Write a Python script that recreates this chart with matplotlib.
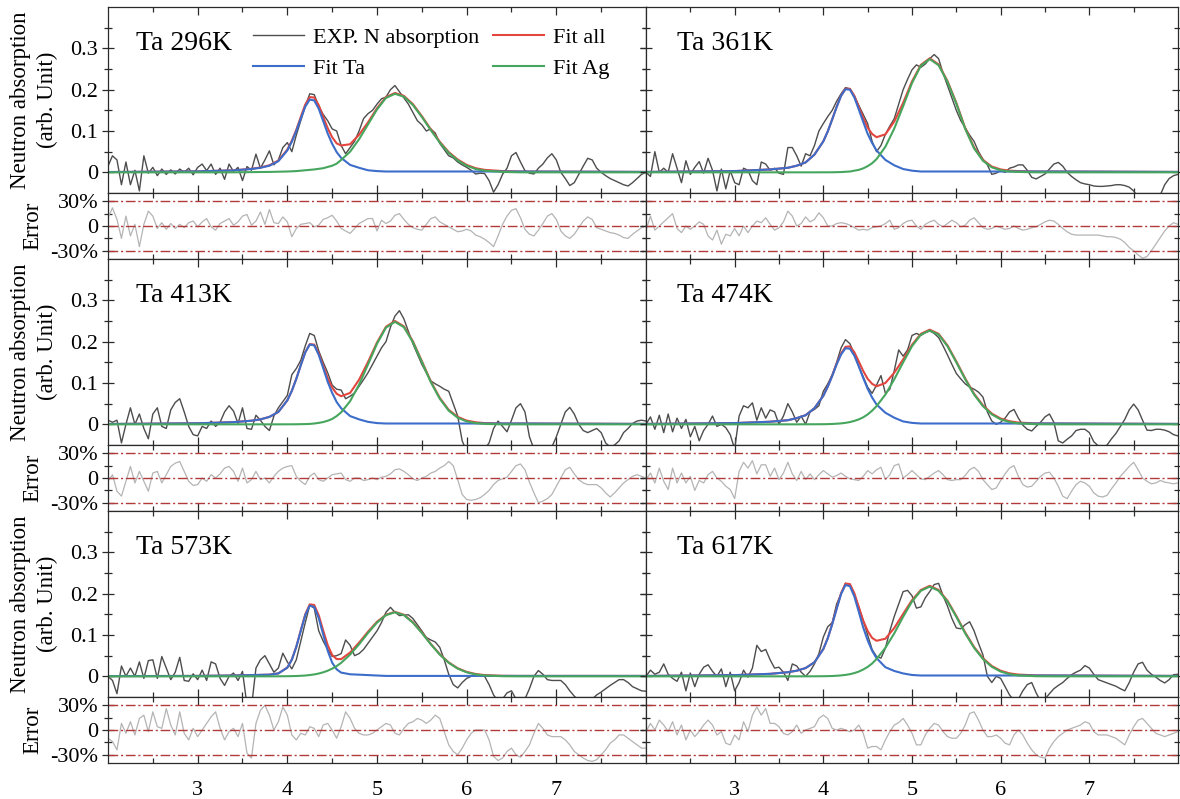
import numpy as np
import matplotlib
matplotlib.use('Agg')
import matplotlib.pyplot as plt
from matplotlib.gridspec import GridSpec

plt.rcParams['font.family'] = ['Liberation Serif', 'DejaVu Serif']

# ---------------- data ----------------
temps = ['296K', '361K', '413K', '474K', '573K', '617K']

# experimental / error sampling positions (x from 2.00 to 8.00, step 0.05)
x_exp = np.linspace(2.0, 8.0, 121)

# fit sampling positions
x_fit = [2.0, 3.0, 3.4, 3.6, 3.7, 3.8, 3.9,
         4.0, 4.05, 4.1, 4.15, 4.2, 4.25, 4.3, 4.35, 4.4, 4.45, 4.5, 4.55, 4.6,
         4.7, 4.8, 4.9, 5.0, 5.1, 5.2, 5.3, 5.4, 5.5, 5.6, 5.7, 5.8, 5.9, 6.0, 6.1, 6.2,
         6.4, 6.6, 8.0]

exp_296 = [0.015, 0.040, 0.030, -0.030, 0.025, -0.030, 0.005, -0.045, 0.040, -0.002,
           0.012, -0.008, 0.008, -0.005, 0.006, -0.004, 0.008, 0.000, 0.010, -0.006,
           0.012, 0.020, 0.004, 0.020, -0.005, 0.010, -0.017, 0.020, 0.002, 0.012,
           -0.020, 0.014, 0.005, 0.044, 0.010, 0.030, 0.052, 0.018, 0.030, 0.060,
           0.072, 0.050, 0.090, 0.125, 0.160, 0.190, 0.188, 0.160, 0.140, 0.125,
           0.105, 0.100, 0.065, 0.045, 0.060, 0.075, 0.100, 0.130, 0.142, 0.150,
           0.165, 0.178, 0.182, 0.200, 0.210, 0.195, 0.180, 0.165, 0.145, 0.125,
           0.115, 0.100, 0.105, 0.095, 0.070, 0.055, 0.040, 0.035, 0.025, 0.018,
           0.012, 0.005, -0.004, -0.002, -0.003, -0.020, -0.048, -0.030, -0.005, 0.010,
           0.040, 0.048, 0.025, 0.004, -0.002, -0.004, 0.010, 0.020, 0.035, 0.045,
           0.030, 0.000, -0.015, -0.032, -0.025, -0.005, 0.015, 0.034, 0.030, 0.010,
           0.000, -0.008, -0.015, -0.020, -0.025, -0.030, -0.033, -0.025, -0.015, -0.005,
           0.000]
err_296 = [10, 22, 8, -15, 12, -12, 2, -25, 2, 18,
           12, -3, 4, -4, 3, -3, 2, -2, 4, 6,
           -1, 5, 9, -1, -5, 3, 6, 9, 1, 5,
           12, 14, 1, 6, 17, 2, 20, 4, 3, 11,
           5, -13, -3, 2, 3, 4, -1, 1, 8, 10,
           13, 6, -3, -6, -9, -3, 3, 6, 9, 9,
           -6, 7, 3, 6, 13, 15, 8, 2, -2, -4,
           -5, 2, 9, 11, 5, 2, -1, -4, -7, -6,
           -4, -6, -11, -13, -16, -20, -25, -12, 2, 12,
           19, 21, 10, -4, -10, -12, -5, 3, 12, 15,
           8, -6, -12, -15, -10, -2, 6, 11, 8, -2,
           -4, -6, -8, -9, -11, -14, -15, -10, -6, -2,
           0]
ta_296 = [0.0007, 0.0023, 0.0048, 0.008, 0.011, 0.016, 0.027,
          0.053, 0.074, 0.100, 0.130, 0.159, 0.176, 0.174, 0.154, 0.124, 0.094, 0.069, 0.049, 0.035,
          0.018, 0.011, 0.005, 0.003, 0.002, 0.002, 0.002, 0.002, 0.002, 0.002, 0.002, 0.002,
          0.002, 0.002, 0.002, 0.002,
          0.002, 0.002, 0.001]
ag_296 = [0.0, 0.0, 0.0, 0.0005, 0.0008, 0.001, 0.0015,
          0.002, 0.0025, 0.003, 0.004, 0.005, 0.006, 0.007, 0.0085, 0.010, 0.013, 0.016, 0.021, 0.030,
          0.050, 0.080, 0.116, 0.152, 0.180, 0.190, 0.183, 0.163, 0.134, 0.102, 0.072, 0.047,
          0.029, 0.016, 0.008, 0.004,
          0.001, 0.0, 0.0]

exp_361 = [0.000, -0.010, 0.050, 0.000, 0.010, 0.000, 0.045, 0.010, -0.025, 0.028,
           -0.005, 0.012, 0.026, -0.002, 0.034, 0.005, -0.045, 0.008, -0.040, 0.004,
           -0.025, -0.030, 0.010, 0.005, -0.020, -0.030, 0.025, 0.020, 0.005, 0.010,
           -0.002, -0.005, 0.060, 0.060, 0.040, 0.015, 0.045, 0.040, 0.065, 0.100,
           0.118, 0.135, 0.150, 0.172, 0.190, 0.205, 0.202, 0.185, 0.162, 0.140,
           0.118, 0.075, 0.050, 0.065, 0.092, 0.112, 0.130, 0.165, 0.200, 0.225,
           0.248, 0.260, 0.254, 0.262, 0.275, 0.285, 0.275, 0.240, 0.210, 0.180,
           0.150, 0.125, 0.108, 0.090, 0.075, 0.050, 0.032, 0.018, -0.005, -0.002,
           0.004, 0.000, 0.010, 0.013, 0.018, 0.018, 0.005, -0.012, -0.016, -0.010,
           -0.004, 0.008, 0.020, 0.024, 0.015, 0.000, -0.010, -0.018, -0.025, -0.028,
           -0.030, -0.033, -0.034, -0.034, -0.033, -0.032, -0.030, -0.030, -0.032, -0.036,
           -0.045, -0.060, -0.070, -0.075, -0.075, -0.070, -0.055, -0.030, -0.015, -0.008,
           -0.005]
err_361 = [-5, 12, -5, 0, 5, 10, 15, -3, -8, 0,
           -4, 0, 5, 2, -12, -17, -5, -22, -10, -12,
           -3, -12, 0, -8, 0, 6, 4, 10, 2, -5,
           -2, 5, 18, 12, 0, 3, 11, 5, 8, 16,
           10, 0, 0, 3, 4, 3, 1, -2, -5, -4,
           -5, -2, -1, 0, 3, 7, -4, -2, 3, 6,
           7, 0, -4, 2, 5, 7, 2, -1, 3, 7,
           4, -1, 1, 7, 10, 4, -2, -4, -3, 0,
           -2, -4, -3, 0, -3, -5, -4, -2, -1, 2,
           5, 7, 6, 2, -3, -7, -10, -11, -11, -11,
           -11, -11, -11, -12, -13, -13, -14, -16, -20, -26,
           -30, -35, -39, -37, -30, -22, -14, -6, 0, 4,
           2]
ta_361 = [0.001, 0.003, 0.007, 0.011, 0.016, 0.024, 0.043,
          0.075, 0.099, 0.128, 0.158, 0.185, 0.201, 0.200, 0.181, 0.152, 0.122, 0.093, 0.071, 0.053,
          0.030, 0.017, 0.008, 0.004, 0.002, 0.002, 0.002, 0.002, 0.002, 0.002, 0.002, 0.002,
          0.002, 0.002, 0.002, 0.002,
          0.002, 0.002, 0.001]
ag_361 = [0.0, 0.0, 0.0, 0.0, 0.0, 0.0, 0.0,
          0.0001, 0.0001, 0.0002, 0.0004, 0.0007, 0.0013, 0.002, 0.004, 0.006, 0.0096, 0.015, 0.022, 0.032,
          0.062, 0.106, 0.160, 0.216, 0.258, 0.274, 0.259, 0.219, 0.166, 0.105, 0.058, 0.028,
          0.012, 0.005, 0.002, 0.001,
          0.0, 0.0, 0.0]

exp_413 = [0.010, 0.005, 0.010, -0.045, 0.000, 0.040, 0.000, 0.025, -0.010, -0.035,
           0.025, 0.040, -0.005, -0.010, 0.035, 0.053, 0.062, 0.030, -0.005, -0.025,
           -0.028, -0.005, -0.010, 0.008, -0.005, 0.005, 0.030, 0.045, 0.032, 0.002,
           0.040, -0.010, -0.012, 0.022, 0.010, -0.005, -0.015, 0.020, 0.040, 0.055,
           0.070, 0.120, 0.135, 0.155, 0.190, 0.220, 0.215, 0.178, 0.150, 0.125,
           0.095, 0.085, 0.083, 0.062, 0.068, 0.076, 0.092, 0.108, 0.125, 0.145,
           0.165, 0.185, 0.200, 0.235, 0.262, 0.275, 0.255, 0.225, 0.195, 0.170,
           0.145, 0.125, 0.105, 0.098, 0.092, 0.085, 0.080, 0.050, 0.020, -0.040,
           -0.065, -0.075, -0.075, -0.070, -0.060, -0.045, -0.010, 0.008, -0.005, -0.018,
           0.010, 0.040, 0.050, 0.030, -0.030, -0.060, -0.070, -0.070, -0.065, -0.055,
           -0.030, 0.000, 0.030, 0.041, 0.025, 0.000, -0.015, -0.020, -0.015, -0.010,
           -0.020, -0.045, -0.055, -0.050, -0.040, -0.020, -0.010, 0.002, 0.008, 0.010,
           0.008]
err_413 = [-4, 4, -16, -22, -4, 14, -6, 8, -4, -16,
           6, 8, -6, 4, 14, 18, 20, 8, -4, -9,
           -8, 0, -4, 4, 0, 5, 12, 14, 8, -4,
           12, -6, -2, 8, -2, 0, -6, 2, 8, 12,
           14, 15, 2, -4, -8, 2, 6, -2, -4, 0,
           4, 5, 6, -2, -4, 0, 0, -3, -2, 0,
           -2, 1, 2, 5, 10, 11, 8, 4, -1, -3,
           0, 2, 6, 8, 12, 15, 20, 15, -2, -20,
           -26, -27, -26, -24, -20, -15, -8, -3, -1, 1,
           8, 15, 17, 10, -5, -18, -30, -28, -25, -20,
           -10, 0, 10, 13, 5, -2, -6, -8, -8, -8,
           -12, -18, -23, -18, -12, -6, -2, 2, 4, 2,
           0]
ta_413 = [0.0008, 0.0025, 0.0053, 0.0088, 0.012, 0.018, 0.030,
          0.058, 0.081, 0.110, 0.143, 0.174, 0.193, 0.191, 0.168, 0.136, 0.103, 0.076, 0.054, 0.039,
          0.020, 0.012, 0.006, 0.003, 0.002, 0.002, 0.002, 0.002, 0.002, 0.002, 0.002, 0.002,
          0.002, 0.002, 0.002, 0.002,
          0.002, 0.002, 0.001]
ag_413 = [0.0, 0.0, 0.0, 0.0, 0.0, 0.0, 0.0,
          0.0001, 0.0001, 0.0002, 0.0004, 0.0006, 0.001, 0.002, 0.0035, 0.0055, 0.0087, 0.013, 0.020, 0.029,
          0.056, 0.096, 0.145, 0.195, 0.234, 0.248, 0.235, 0.199, 0.151, 0.102, 0.062, 0.033,
          0.016, 0.007, 0.003, 0.001,
          0.0, 0.0, 0.0]

exp_474 = [0.000, 0.018, -0.012, 0.022, -0.020, 0.025, -0.018, 0.015, -0.010, 0.012,
           -0.030, -0.005, -0.040, -0.015, 0.000, 0.020, -0.005, 0.000, -0.008, -0.025,
           -0.060, 0.020, 0.045, 0.040, 0.052, 0.010, 0.040, 0.015, 0.035, 0.030,
           0.000, 0.020, 0.050, 0.030, 0.005, 0.020, 0.000, 0.030, 0.036, 0.045,
           0.080, 0.098, 0.120, 0.150, 0.185, 0.205, 0.195, 0.170, 0.140, 0.115,
           0.090, 0.075, 0.095, 0.118, 0.075, 0.085, 0.130, 0.180, 0.165, 0.180,
           0.215, 0.220, 0.215, 0.222, 0.226, 0.220, 0.210, 0.190, 0.168, 0.145,
           0.123, 0.110, 0.098, 0.090, 0.085, 0.078, 0.066, 0.030, 0.008, 0.000,
           0.005, 0.015, 0.030, 0.036, 0.015, -0.002, -0.012, -0.016, -0.005, 0.005,
           0.018, 0.025, 0.005, -0.040, -0.045, -0.036, -0.028, -0.015, -0.012, -0.012,
           -0.020, -0.042, -0.052, -0.057, -0.050, -0.035, -0.022, -0.005, 0.012, 0.035,
           0.049, 0.035, 0.010, -0.014, -0.015, -0.012, -0.012, -0.014, -0.018, -0.025,
           -0.028]
err_474 = [-2, 6, -6, 12, -4, -14, 12, -6, 6, -6,
           2, -15, -3, -6, 4, 8, 0, -4, -10, -14,
           -25, 8, 19, 12, 21, 5, 16, 16, 2, 12,
           -2, 6, 19, 5, -3, 8, -2, 5, -2, 4,
           9, 5, 1, 3, 6, 2, -1, -2, -3, 2,
           9, 5, 10, 13, -2, 4, 15, 17, 0, 4,
           9, 4, -1, -2, 2, 6, 9, 4, -2, -3,
           -2, -2, 3, 10, 13, 8, -2, -8, -14, -12,
           -3, 5, 12, 15, 2, -8, -11, -10, -4, 2,
           6, 7, 0, -10, -22, -25, -16, -8, -4, -6,
           -10, -18, -22, -23, -21, -13, -6, 2, 8, 14,
           19, 10, 0, -4, -7, -6, -3, -5, -6, -7,
           -6]
ta_474 = [0.001, 0.003, 0.0063, 0.010, 0.015, 0.022, 0.039,
          0.069, 0.091, 0.117, 0.145, 0.169, 0.184, 0.183, 0.166, 0.140, 0.112, 0.086, 0.065, 0.048,
          0.028, 0.016, 0.007, 0.0035, 0.002, 0.002, 0.002, 0.002, 0.002, 0.002, 0.002, 0.002,
          0.002, 0.002, 0.002, 0.002,
          0.002, 0.002, 0.001]
ag_474 = [0.0, 0.0, 0.0, 0.0, 0.0, 0.0001, 0.0002,
          0.0003, 0.0005, 0.0009, 0.0015, 0.0023, 0.0036, 0.0055, 0.0083, 0.012, 0.017, 0.024, 0.033, 0.044,
          0.072, 0.109, 0.150, 0.189, 0.217, 0.227, 0.217, 0.189, 0.150, 0.109, 0.072, 0.044,
          0.024, 0.012, 0.0055, 0.0023,
          0.0003, 0.0, 0.0]

exp_573 = [0.000, -0.010, -0.042, 0.025, 0.000, 0.020, 0.000, 0.035, -0.005, 0.038,
           0.040, -0.005, 0.048, 0.020, -0.008, 0.010, 0.046, -0.010, -0.012, 0.006,
           -0.008, 0.015, -0.010, 0.035, 0.030, -0.005, -0.022, 0.000, 0.008, -0.010,
           0.012, -0.070, -0.075, 0.020, 0.040, 0.050, 0.030, 0.010, 0.020, 0.056,
           0.035, 0.018, 0.040, 0.085, 0.130, 0.172, 0.165, 0.110, 0.085, 0.065,
           0.048, 0.050, 0.055, 0.088, 0.075, 0.050, 0.055, 0.065, 0.080, 0.095,
           0.110, 0.130, 0.155, 0.167, 0.155, 0.147, 0.148, 0.149, 0.140, 0.125,
           0.110, 0.094, 0.088, 0.083, 0.070, 0.040, 0.005, -0.020, -0.028, -0.015,
           -0.005, 0.000, 0.002, 0.003, 0.000, -0.020, -0.045, -0.060, -0.055, -0.040,
           -0.035, -0.055, -0.065, -0.055, -0.030, 0.000, 0.014, 0.005, -0.008, -0.010,
           -0.010, -0.010, -0.020, -0.035, -0.048, -0.058, -0.062, -0.060, -0.055, -0.045,
           -0.038, -0.030, -0.022, -0.015, -0.008, -0.008, -0.015, -0.025, -0.030, -0.035,
           -0.036]
err_573 = [-10, -14, -24, 8, -4, 10, -6, 14, 18, -2,
           22, 4, 2, 26, 6, -6, 22, -4, -12, 2,
           -8, 0, 8, 16, 22, 2, -12, -2, 2, -8,
           8, -28, -34, 8, 24, 30, 18, 0, 10, 28,
           18, -6, -12, -4, -6, 4, 2, -8, 6, 8,
           0, -10, 4, 22, 14, 2, -4, -6, -6, -4,
           0, 4, 8, 6, -4, -6, 2, 8, 10, 14,
           12, 8, 12, 18, 14, -2, -18, -26, -30, -22,
           -12, -4, 0, 0, 0, -12, -32, -37, -34, -26,
           -22, -30, -33, -26, -18, -4, 8, 2, -6, -8,
           -8, -8, -12, -18, -26, -30, -34, -37, -38, -36,
           -30, -24, -16, -12, -6, -6, -10, -14, -18, -22,
           -22]
ta_573 = [0.0005, 0.001, 0.002, 0.003, 0.0035, 0.004, 0.007,
          0.021, 0.040, 0.071, 0.110, 0.148, 0.171, 0.168, 0.141, 0.101, 0.062, 0.033, 0.017, 0.009,
          0.005, 0.004, 0.003, 0.002, 0.001, 0.001, 0.001, 0.001, 0.001, 0.001, 0.001, 0.001,
          0.001, 0.001, 0.001, 0.001,
          0.001, 0.001, 0.001]
ag_573 = [0.0, 0.0, 0.0, 0.0, 0.0, 0.0, 0.0001,
          0.0003, 0.0005, 0.0008, 0.0013, 0.002, 0.0031, 0.0046, 0.0068, 0.0097, 0.0136, 0.0186, 0.0248, 0.0326,
          0.0526, 0.0775, 0.105, 0.130, 0.148, 0.155, 0.148, 0.130, 0.105, 0.0775, 0.0526, 0.0326,
          0.0186, 0.0097, 0.0046, 0.002,
          0.0003, 0.0, 0.0]

exp_617 = [0.000, 0.015, 0.005, 0.010, 0.030, 0.005, -0.005, -0.012, 0.010, -0.035,
           0.008, -0.025, 0.005, 0.022, 0.028, 0.012, 0.000, 0.018, -0.025, 0.010,
           -0.035, -0.015, 0.015, -0.002, 0.020, 0.075, 0.060, 0.065, 0.040, 0.020,
           0.022, 0.010, -0.010, 0.030, 0.025, 0.010, 0.000, 0.012, 0.030, 0.055,
           0.095, 0.120, 0.130, 0.175, 0.200, 0.225, 0.222, 0.197, 0.168, 0.135,
           0.100, 0.065, 0.048, 0.044, 0.068, 0.110, 0.145, 0.175, 0.205, 0.208,
           0.195, 0.165, 0.168, 0.190, 0.205, 0.222, 0.225, 0.195, 0.170, 0.140,
           0.117, 0.115, 0.125, 0.132, 0.110, 0.080, 0.052, 0.000, -0.015, 0.000,
           -0.005, -0.025, -0.045, -0.058, -0.055, -0.035, -0.020, -0.015, -0.040, -0.060,
           -0.055, -0.042, -0.030, -0.022, -0.015, -0.005, 0.004, 0.010, 0.015, 0.026,
           0.020, 0.005, -0.008, -0.012, -0.016, -0.020, -0.024, -0.030, -0.035, -0.015,
           0.010, 0.030, 0.034, 0.015, 0.005, -0.002, -0.010, -0.016, -0.008, 0.004,
           0.005]
err_617 = [-2, 8, 0, 12, 6, -2, 10, -6, 6, -12,
           0, -8, -2, 6, 12, 6, -6, -2, -16, -18,
           -6, -12, 10, -2, 18, 28, 18, 26, 8, 8,
           4, -4, -6, -2, 6, -4, 0, 2, 4, 14,
           18, 14, 2, 0, 2, 0, -2, 0, 6, -4,
           -22, -20, -20, -24, -12, -2, 6, 9, 14, 6,
           -4, -18, -18, -6, 2, 8, 6, -2, -8, -10,
           -10, -4, 6, 20, 22, 12, 0, -8, -8, -6,
           -10, -16, -18, -6, 0, -6, -16, -24, -30, -33,
           -34, -22, -14, -8, -4, 0, 2, 4, 6, 10,
           8, -2, -6, -6, -6, -8, -10, -14, -18, -6,
           4, 12, 14, 8, 2, -4, -6, -8, -6, -4,
           -2]
ta_617 = [0.0009, 0.0029, 0.006, 0.010, 0.0136, 0.020, 0.034,
          0.066, 0.092, 0.126, 0.163, 0.199, 0.221, 0.218, 0.193, 0.156, 0.118, 0.087, 0.062, 0.044,
          0.022, 0.013, 0.007, 0.0033, 0.002, 0.002, 0.002, 0.002, 0.002, 0.002, 0.002, 0.002,
          0.002, 0.002, 0.002, 0.002,
          0.002, 0.002, 0.001]
ag_617 = [0.0, 0.0, 0.0, 0.0, 0.0, 0.0, 0.0001,
          0.0003, 0.0005, 0.0008, 0.0014, 0.0022, 0.0035, 0.0052, 0.0079, 0.0115, 0.0165, 0.0228, 0.031, 0.042,
          0.069, 0.104, 0.144, 0.181, 0.207, 0.217, 0.207, 0.181, 0.144, 0.104, 0.069, 0.042,
          0.023, 0.0115, 0.0052, 0.0022,
          0.0003, 0.0, 0.0]

panels = [
    (temps[0], exp_296, err_296, ta_296, ag_296),
    (temps[1], exp_361, err_361, ta_361, ag_361),
    (temps[2], exp_413, err_413, ta_413, ag_413),
    (temps[3], exp_474, err_474, ta_474, ag_474),
    (temps[4], exp_573, err_573, ta_573, ag_573),
    (temps[5], exp_617, err_617, ta_617, ag_617),
]

# ---------------- style ----------------
C_EXP = '#4d4d4d'
C_ERR = '#b4b4b4'
C_ALL = '#e2463f'
C_TA = '#3d6dca'
C_AG = '#47a65d'
C_REF = '#b23a3a'
SP = '#2a2a2a'

W, H = 1180, 799
fig = plt.figure(figsize=(W / 100, H / 100), dpi=100)
gs = GridSpec(6, 2, figure=fig,
              height_ratios=[186, 66, 186, 66, 186, 66],
              width_ratios=[538, 532],
              left=108 / W, right=1178 / W, top=1 - 7 / H, bottom=1 - 763 / H,
              hspace=0, wspace=0)

xmaj = [3, 4, 5, 6, 7]
xmin = [2.5, 3.5, 4.5, 5.5, 6.5, 7.5]

legend_handles = None
for i, (lab, ex, er, ta, ag) in enumerate(panels):
    row, col = divmod(i, 2)
    ax = fig.add_subplot(gs[2 * row, col])
    axe = fig.add_subplot(gs[2 * row + 1, col], sharex=ax)

    ta_a = np.asarray(ta)
    ag_a = np.asarray(ag)
    all_a = ta_a + ag_a

    l_exp, = ax.plot(x_exp, ex, color=C_EXP, lw=1.0)
    l_all, = ax.plot(x_fit, all_a, color=C_ALL, lw=1.5)
    l_ta, = ax.plot(x_fit, ta_a, color=C_TA, lw=1.5)
    l_ag, = ax.plot(x_fit, ag_a, color=C_AG, lw=1.5)
    if legend_handles is None:
        legend_handles = (ax, l_exp, l_ta, l_all, l_ag)

    ax.set_xlim(2, 8)
    ax.set_ylim(-0.05, 0.4)
    ax.set_yticks([0, 0.1, 0.2, 0.3], ['0', '0.1', '0.2', '0.3'])
    ax.set_yticks([0.05, 0.15, 0.25, 0.35], minor=True)
    ax.text(0.052 if col == 0 else 0.058, 0.806, 'Ta ' + lab, transform=ax.transAxes,
            fontsize=20, ha='left', va='center')

    axe.plot(x_exp, er, color=C_ERR, lw=0.9)
    for yv in (-30, 0, 30):
        axe.axhline(yv, color=C_REF, lw=1.0, ls=(0, (7, 2, 1.5, 2)))
    axe.set_ylim(-40, 40)
    axe.set_yticks([-30, 0, 30], ['-30%', '0', '30%'])
    axe.set_yticks([-15, 15], minor=True)

    for a in (ax, axe):
        a.set_xticks(xmaj)
        a.set_xticks(xmin, minor=True)
        a.tick_params(axis='x', which='both', direction='in', top=True, bottom=True,
                      labelbottom=False, width=0.9, color=SP)
        a.tick_params(axis='x', which='major', length=6)
        a.tick_params(axis='x', which='minor', length=3.5)
        a.tick_params(axis='y', which='both', direction='inout', left=True, right=True,
                      labelleft=(col == 0), labelsize=16, width=0.9, color=SP, pad=2.5)
        a.tick_params(axis='y', which='major', length=9)
        a.tick_params(axis='y', which='minor', length=6)
        for s in a.spines.values():
            s.set_linewidth(0.9)
            s.set_color(SP)
    if row == 2:
        axe.tick_params(axis='x', which='major', labelbottom=True, labelsize=16, pad=13)

    if col == 0:
        yc_main = 7 + row * 252 + 93
        yc_err = 7 + row * 252 + 186 + 33
        fig.text(34 / W, 1 - yc_main / H, 'Neutron absorption\n(arb. Unit)', rotation=90,
                 ha='center', va='center', fontsize=16.5, linespacing=1.35)
        fig.text(33 / W, 1 - yc_err / H, 'Error', rotation=90,
                 ha='center', va='center', fontsize=16.5)

ax0, l_exp, l_ta, l_all, l_ag = legend_handles
ax0.legend([l_exp, l_ta, l_all, l_ag], ['EXP. N absorption', 'Fit Ta', 'Fit all', 'Fit Ag'],
           ncol=2, loc='upper left', bbox_to_anchor=(0.2695, 0.89), frameon=False,
           fontsize=16, handlelength=2.3, handletextpad=0.4, columnspacing=0.6,
           labelspacing=0.45, borderpad=0, borderaxespad=0)

fig.savefig('out.png', dpi=100)
